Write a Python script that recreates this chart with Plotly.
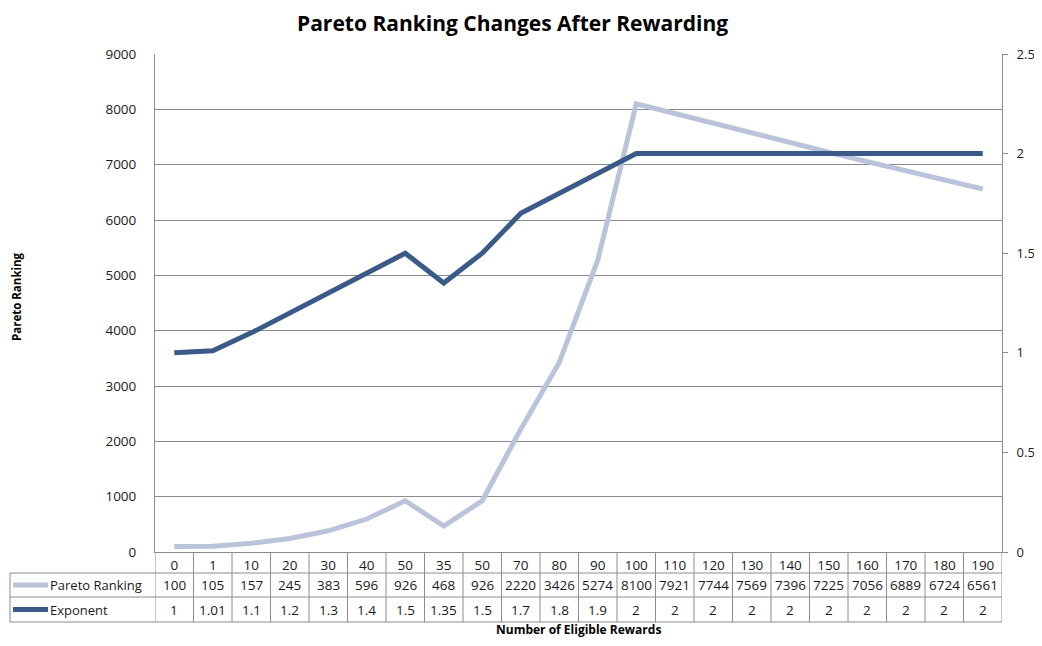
import plotly.graph_objects as go

categories = ["0", "1", "10", "20", "30", "40", "50", "35", "50", "70", "80", "90", "100",
              "110", "120", "130", "140", "150", "160", "170", "180", "190"]
pareto = [100, 105, 157, 245, 383, 596, 926, 468, 926, 2220, 3426, 5274, 8100,
          7921, 7744, 7569, 7396, 7225, 7056, 6889, 6724, 6561]
exponent = [1, 1.01, 1.1, 1.2, 1.3, 1.4, 1.5, 1.35, 1.5, 1.7, 1.8, 1.9, 2,
            2, 2, 2, 2, 2, 2, 2, 2, 2]
exponent_text = ["1", "1.01", "1.1", "1.2", "1.3", "1.4", "1.5", "1.35", "1.5", "1.7", "1.8", "1.9", "2",
                 "2", "2", "2", "2", "2", "2", "2", "2", "2"]
series_names = ["Pareto Ranking", "Exponent"]

FONT = "Open Sans"
W, H = 1042, 646
OFF = 8  # page body margin offset (all sides)
FW, FH = W - 2 * OFF, H - 2 * OFF  # figure size that fits the viewport without scrolling
L, R, T, B = 155, 1002, 54, 552    # plot area in page pixels
PW, PH = R - L, B - T

C_LIGHT = "#B9C4DB"
C_DARK = "#3A5A88"
GRID = "#8C8C8C"
TXT = "#1a1a1a"

n = len(categories)
x = list(range(n))


def py(pix):
    return (B - pix) / PH


def px(pix):
    return (pix - L) / PW


fig = go.Figure()
fig.add_trace(go.Scatter(x=x, y=pareto, name=series_names[0], mode="lines",
                         line=dict(color=C_LIGHT, width=5), yaxis="y"))
fig.add_trace(go.Scatter(x=x, y=exponent, name=series_names[1], mode="lines",
                         line=dict(color=C_DARK, width=5), yaxis="y2"))

shapes = []
annotations = []

row_top = [B, 573, 597, 622]
for yy in row_top[1:]:
    shapes.append(dict(type="line", xref="paper", yref="paper", x0=px(10), x1=1,
                       y0=py(yy), y1=py(yy), line=dict(color=GRID, width=1)))
shapes.append(dict(type="line", xref="paper", yref="paper", x0=px(10), x1=px(10),
                   y0=py(573), y1=py(622), line=dict(color=GRID, width=1)))
for k in range(n + 1):
    shapes.append(dict(type="line", xref="x", yref="paper", x0=k - 0.5, x1=k - 0.5,
                       y0=0, y1=py(622), line=dict(color=GRID, width=1)))

for i, (name, col) in enumerate(zip(series_names, [C_LIGHT, C_DARK])):
    yc = (row_top[i + 1] + row_top[i + 2]) / 2
    shapes.append(dict(type="line", xref="paper", yref="paper", x0=px(13), x1=px(48),
                       y0=py(yc), y1=py(yc), line=dict(color=col, width=5)))
    annotations.append(dict(text=name, xref="paper", yref="paper", x=px(48), y=py(yc),
                            xanchor="left", yanchor="middle", showarrow=False,
                            font=dict(family=FONT, size=13, color=TXT)))

for k in range(n):
    for i, vals in enumerate([[str(v) for v in pareto], exponent_text]):
        yc = (row_top[i + 1] + row_top[i + 2]) / 2
        annotations.append(dict(text=vals[k], xref="x", yref="paper", x=k, y=py(yc),
                                xanchor="center", yanchor="middle", showarrow=False,
                                font=dict(family=FONT, size=13.5, color=TXT)))

annotations.append(dict(text="<b>Pareto Ranking Changes After Rewarding</b>", xref="paper", yref="paper",
                        x=px(512), y=py(23), xanchor="center", yanchor="middle", showarrow=False,
                        borderpad=0, font=dict(family=FONT, size=21, color="black")))
annotations.append(dict(text="<b>Number of Eligible Rewards</b>", xref="paper", yref="paper",
                        x=px(578), y=py(629), xanchor="center", yanchor="middle", showarrow=False,
                        borderpad=0, font=dict(family=FONT, size=12, color="black")))
annotations.append(dict(text="<b>Pareto Ranking</b>", xref="paper", yref="paper",
                        x=px(16), y=py(297), xanchor="center", yanchor="middle", showarrow=False,
                        borderpad=0, textangle=-90, font=dict(family=FONT, size=11.5, color="black")))

fig.update_layout(
    width=FW, height=FH,
    margin=dict(l=L - OFF, r=FW - (R - OFF), t=T - OFF, b=FH - (B - OFF), pad=0,
                autoexpand=False),
    paper_bgcolor="white", plot_bgcolor="white",
    showlegend=False,
    font=dict(family=FONT, size=13.5, color=TXT),
    xaxis=dict(range=[-0.5, n - 0.5], tickmode="array", tickvals=x, ticktext=categories,
               showgrid=False, zeroline=False, showline=True, linecolor=GRID, linewidth=1,
               ticks="", ticklabelstandoff=1, tickfont=dict(family=FONT, size=13.5, color=TXT),
               automargin=False),
    yaxis=dict(range=[0, 9000], tickmode="linear", tick0=0, dtick=1000,
               showgrid=True, gridcolor=GRID, gridwidth=1, zeroline=False,
               showline=True, linecolor=GRID, linewidth=1, ticks="",
               ticklabelstandoff=15, tickfont=dict(family=FONT, size=13.5, color=TXT),
               automargin=False),
    yaxis2=dict(range=[0, 2.5], tickmode="linear", tick0=0, dtick=0.5, overlaying="y",
                side="right", showgrid=False, zeroline=False, showline=True,
                linecolor=GRID, linewidth=1, ticks="outside", ticklen=5, tickcolor=GRID,
                ticklabelstandoff=6, tickfont=dict(family=FONT, size=13, color=TXT),
                automargin=False),
    shapes=shapes, annotations=annotations,
)

fig.write_html("out.html")
